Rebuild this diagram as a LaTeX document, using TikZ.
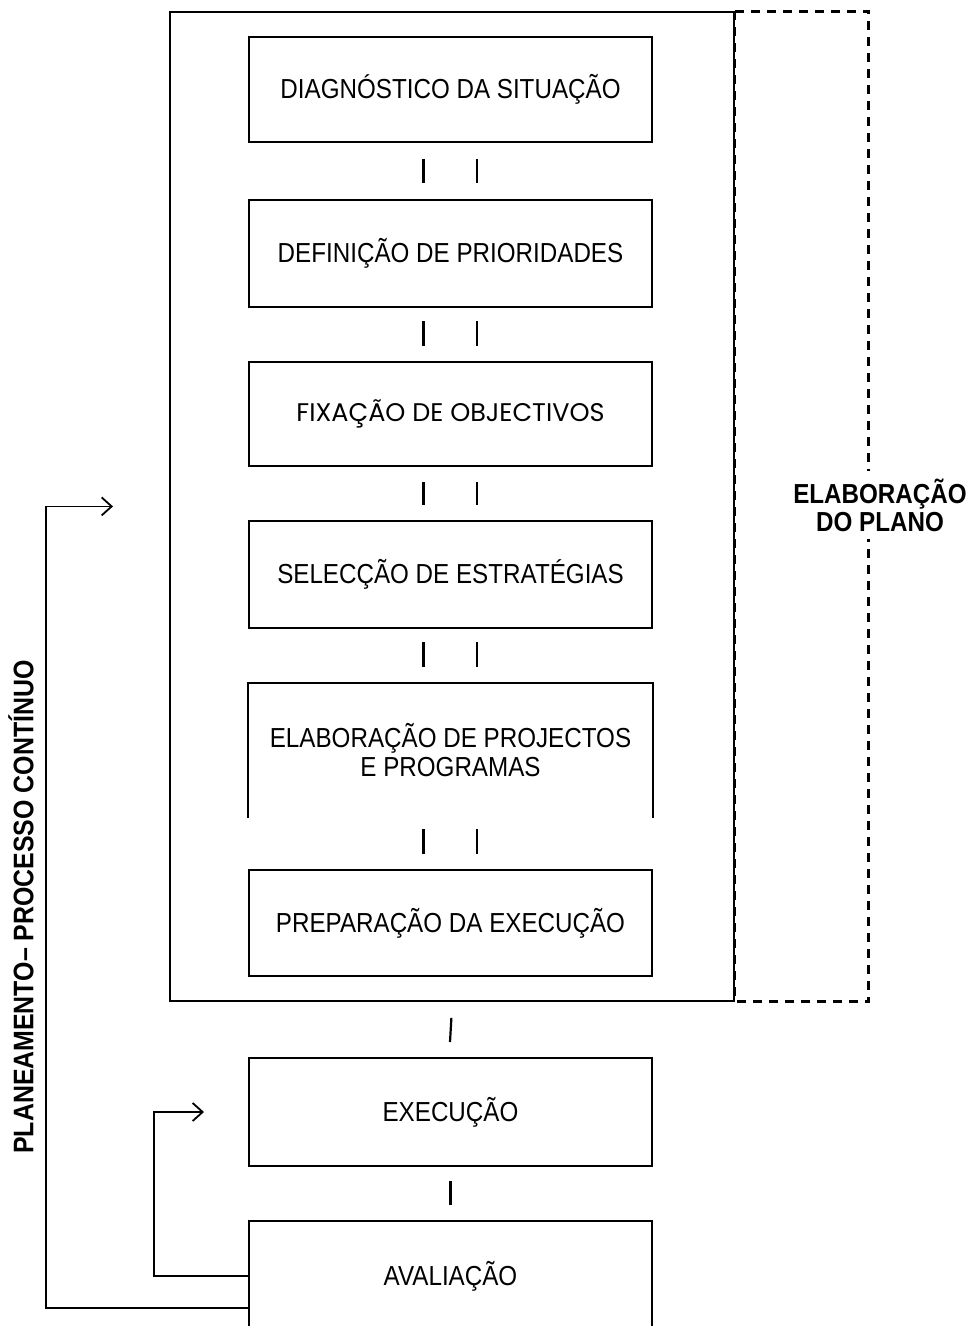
\documentclass[tikz,border=0pt]{standalone}
\usepackage{fontspec}
\setmainfont{Liberation Sans}[FakeStretch=0.88]
\newfontfamily\fixfont{Poppins}
\usetikzlibrary{arrows.meta,calc}
\tikzset{
  box/.style={draw, line width=2pt, minimum width=403pt, inner sep=0pt, align=center,
    font=\fontsize{27.5}{29}\selectfont},
  bar/.style={line width=2.2pt},
  arr/.style={line width=1.8pt, -{Straight Barb[length=10pt,width=18pt,line width=1.8pt]}},
  dashbr/.style={line width=3pt, dash pattern=on 9pt off 7pt},
  lbl/.style={font=\bfseries\fontsize{27.5}{28}\selectfont, align=center}
}
\begin{document}
\begin{tikzpicture}[x=1pt,y=-1pt]
\clip (0,0) rectangle (971,1326);
\fill[white] (0,0) rectangle (971,1326);

% outer plan box
\node[draw, line width=1.8pt, minimum width=564pt, minimum height=989pt, inner sep=0pt, anchor=north west] (plan) at (169,11) {};

% dashed bracket
\draw[dashbr] (plan.north east) -- ++(134,0) |- (plan.south east);
\draw[dashbr] (plan.north east) -- (plan.south east);
\node[lbl, fill=white, inner sep=8pt] (lab) at (880,505) {ELABORAÇÃO\\DO PLANO};

% steps
\node[box, minimum height=105pt] (b1) at (450.5,89.5) {DIAGNÓSTICO DA SITUAÇÃO};
\node[box, minimum height=107pt] (b2) at (450.5,253.5) {DEFINIÇÃO DE PRIORIDADES};
\node[box, minimum height=104pt, font=\fixfont\fontsize{25.5}{27}\selectfont] (b3) at (450.5,414) {FIXAÇÃO DE OBJECTIVOS};
\node[box, minimum height=107pt] (b4) at (450.5,574.5) {SELECÇÃO DE ESTRATÉGIAS};
\node[box, draw=none, minimum height=133pt] (b5) at (450.5,750.5) {ELABORAÇÃO DE PROJECTOS\\E PROGRAMAS};
\draw[line width=2pt] (b5.south west) -- (b5.north west) -- (b5.north east) -- (b5.south east);
\node[box, minimum height=106pt] (b6) at (450.5,923) {PREPARAÇÃO DA EXECUÇÃO};

\node[box, minimum height=108pt] (exec) at (450.5,1112) {EXECUÇÃO};
\node[box, minimum height=110pt] (aval) at (450.5,1276) {AVALIAÇÃO};

% double bars
\foreach \u/\v/\a/\b in {b1/b2/16/16, b2/b3/13/15, b3/b4/15/15, b4/b5/13/16, b5/b6/11/15}{
  \draw[bar] ($(\u.south)+(-27,\a)$) -- ($(\v.north)+(-27,-\b)$);
  \draw[bar] ($(\u.south)+(26.5,\a)$) -- ($(\v.north)+(26.5,-\b)$);
}
% single bars
\draw[bar] ($(plan.south)+(-0.5,16)$) -- ($(exec.north)+(-0.5,-15)$);
\draw[bar] ($(exec.south)+(0,14)$) -- ($(aval.north)+(0,-15)$);

% feedback loops
\draw[arr] (aval.west) -- ++(-94,0) |- ($(exec.west)+(-44,0)$);
\draw[arr] ($(aval.west)+(0,32)$) -- ++(-202,0) |- ($(plan.west)+(-56,0)$);

% vertical label
\node[lbl, rotate=90, font=\bfseries\fontsize{28.3}{29}\selectfont] (vt) at (21,907) {PLANEAMENTO– PROCESSO CONTÍNUO};
\end{tikzpicture}
\end{document}
